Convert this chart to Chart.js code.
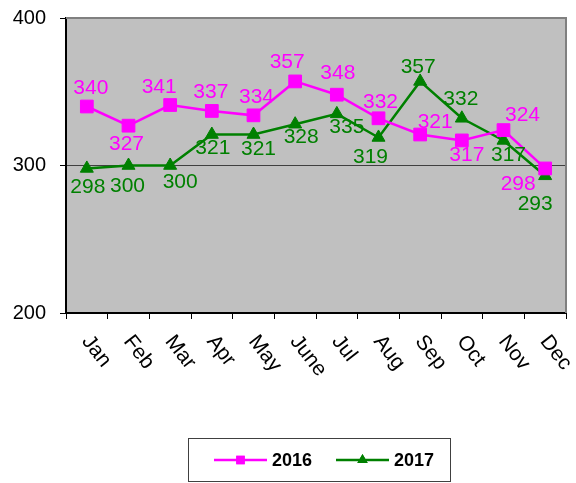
<!DOCTYPE html>
<html>
<head>
<meta charset="utf-8">
<script src="https://cdn.jsdelivr.net/npm/chart.js@4.4.0/dist/chart.umd.min.js"></script>
<style>
    html, body { margin: 0; padding: 0; background: #fff; }
    #wrap { width: 576px; height: 483px; }
</style>
</head>
<body>
<div id="wrap"><canvas id="tempChart" width="576" height="483"></canvas></div>
<script>
const months = ['Jan', 'Feb', 'Mar', 'Apr', 'May', 'June', 'Jul', 'Aug', 'Sep', 'Oct', 'Nov', 'Dec'];
const values2016 = [340, 327, 341, 337, 334, 357, 348, 332, 321, 317, 324, 298];
const values2017 = [298, 300, 300, 321, 321, 328, 335, 319, 357, 332, 317, 293];
const yTicks = [200, 300, 400];

// pixel nudges for each value label so it clears the lines
const labelShift2016 = [[4, -18], [-2, 19], [-11, -18], [-1, -19], [3, -18], [-8, -19], [1, -21], [2, -16], [15, -12], [5, 15], [19, -15], [-27, 16]];
const labelShift2017 = [[1, 19], [-1, 21], [10, 17], [1, 14], [5, 15], [6, 13], [10, 13], [-8, 20], [-2, -14], [-1, -19], [5, 15], [-10, 28]];

const PINK = '#FF00FF';
const GREEN = '#008000';
const FONT = 'Arial, "Liberation Sans", sans-serif';

const plotBackground = {
    id: 'plotBackground',
    beforeDraw(chart) {
        const { ctx, chartArea: a } = chart;
        ctx.save();
        ctx.fillStyle = '#C0C0C0';
        ctx.fillRect(a.left, a.top, a.right - a.left, a.bottom - a.top);
        ctx.restore();
    },
    beforeDatasetsDraw(chart) {
        const { ctx, chartArea: a } = chart;
        ctx.save();
        ctx.strokeStyle = '#808080';
        ctx.lineWidth = 2;
        ctx.beginPath();
        ctx.moveTo(a.left, a.top);
        ctx.lineTo(a.right, a.top);
        ctx.lineTo(a.right, a.bottom);
        ctx.stroke();
        ctx.restore();
    }
};

const valueLabels = {
    id: 'valueLabels',
    afterDatasetsDraw(chart) {
        const ctx = chart.ctx;
        const shifts = [labelShift2016, labelShift2017];
        ctx.save();
        ctx.font = '21px ' + FONT;
        ctx.textAlign = 'center';
        ctx.textBaseline = 'middle';
        chart.data.datasets.forEach(function (ds, di) {
            ctx.fillStyle = ds.borderColor;
            chart.getDatasetMeta(di).data.forEach(function (pt, i) {
                const s = shifts[di][i];
                ctx.fillText(String(ds.data[i]), pt.x + s[0], pt.y + s[1]);
            });
        });
        ctx.restore();
    }
};

const monthLabels = {
    id: 'monthLabels',
    afterDraw(chart) {
        const ctx = chart.ctx;
        const xScale = chart.scales.x;
        const base = chart.chartArea.bottom;
        ctx.save();
        ctx.font = '21px ' + FONT;
        ctx.fillStyle = '#000';
        ctx.textAlign = 'left';
        ctx.textBaseline = 'middle';
        months.forEach(function (m, i) {
            const x = xScale.getPixelForValue(i);
            ctx.save();
            ctx.translate(x - 1, base + 25);
            ctx.rotate(52 * Math.PI / 180);
            ctx.fillText(m, 0, 0);
            ctx.restore();
        });
        ctx.restore();
    }
};

// legend in a framed box under the chart, line + marker + bold year
const boxedLegend = {
    id: 'boxedLegend',
    afterDraw(chart) {
        const ctx = chart.ctx;
        const a = chart.chartArea;
        const w = 262, h = 43;
        const left = Math.round((a.left + a.right) / 2 - w / 2) + 3;
        const top = 438;
        ctx.save();
        ctx.strokeStyle = '#404040';
        ctx.lineWidth = 1;
        ctx.strokeRect(left + 0.5, top + 0.5, w, h);

        ctx.font = 'bold 18px ' + FONT;
        ctx.textBaseline = 'middle';
        ctx.textAlign = 'left';
        const cy = top + 22;
        let x = left + 26;
        chart.data.datasets.forEach(function (ds) {
            ctx.strokeStyle = ds.borderColor;
            ctx.lineWidth = 2.5;
            ctx.beginPath();
            ctx.moveTo(x, cy);
            ctx.lineTo(x + 53, cy);
            ctx.stroke();
            ctx.fillStyle = ds.borderColor;
            Chart.helpers.drawPoint(ctx, { pointStyle: ds.pointStyle, radius: 6, borderWidth: 0, rotation: 0 }, x + 26.5, cy);
            ctx.fill();
            ctx.fillStyle = '#000';
            ctx.fillText(ds.label, x + 58, cy + 1);
            x += 122;
        });
        ctx.restore();
    }
};

const ctx = document.getElementById('tempChart').getContext('2d');
new Chart(ctx, {
    type: 'line',
    data: {
        labels: months,
        datasets: [{
            label: '2016',
            data: values2016,
            borderColor: PINK,
            backgroundColor: PINK,
            borderWidth: 2.5,
            pointStyle: 'rect',
            pointRadius: 9,
            pointBorderWidth: 1,
            pointBackgroundColor: PINK,
            tension: 0
        }, {
            label: '2017',
            data: values2017,
            borderColor: GREEN,
            backgroundColor: GREEN,
            borderWidth: 2.5,
            pointStyle: 'triangle',
            pointRadius: 7.5,
            pointBorderWidth: 1,
            pointBackgroundColor: GREEN,
            tension: 0
        }]
    },
    options: {
        responsive: false,
        animation: false,
        layout: { padding: { left: 0, right: 7, top: 18, bottom: 0 } },
        plugins: {
            legend: { display: false },
            tooltip: { enabled: false }
        },
        scales: {
            x: {
                offset: true,
                grid: {
                    offset: true,
                    drawOnChartArea: false,
                    tickColor: '#000',
                    tickLength: 6,
                    lineWidth: 1
                },
                border: { color: '#000', width: 2 },
                ticks: { display: false },
                afterFit: function (scale) { scale.height = 170; }
            },
            y: {
                min: 200,
                max: 400,
                afterBuildTicks: function (scale) {
                    scale.ticks = yTicks.map(v => ({ value: v }));
                },
                grid: {
                    color: function (c) { return c.tick && c.tick.value === 300 ? '#404040' : 'rgba(0,0,0,0)'; },
                    tickColor: '#000',
                    tickLength: 6,
                    lineWidth: 1
                },
                border: { color: '#000', width: 2 },
                ticks: {
                    color: '#000',
                    // small lineHeight keeps the top label from pushing the plot down
                    font: { family: FONT, size: 20, lineHeight: 0.4 },
                    padding: 14
                },
                afterFit: function (scale) { scale.width = 66; }
            }
        }
    },
    plugins: [plotBackground, valueLabels, monthLabels, boxedLegend]
});
</script>
</body>
</html>
